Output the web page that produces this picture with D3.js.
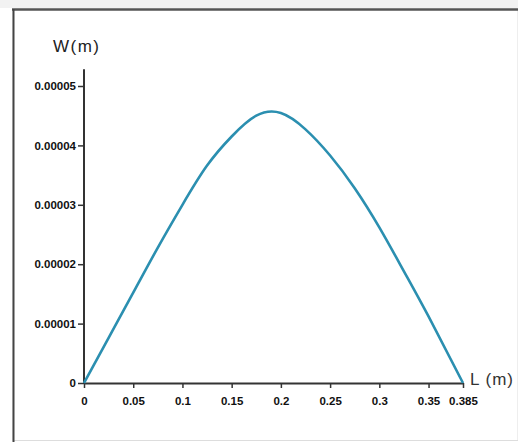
<!DOCTYPE html>
<html>
<head>
<meta charset="utf-8">
<script src="https://cdn.jsdelivr.net/npm/d3@7"></script>
<style>
  body { margin: 0; background: #fff; }
  svg { display: block; }
</style>
</head>
<body>
<div id="chart"></div>
<script>
// span position L (m) and deflection W (m)
var lengthVals = [0, 0.025, 0.05, 0.075, 0.1, 0.125, 0.15, 0.175, 0.2, 0.225, 0.25, 0.275, 0.3, 0.325, 0.35, 0.385];
var deflectionVals = [0, 0.76e-5, 1.52e-5, 2.28e-5, 3.0e-5, 3.66e-5, 4.15e-5, 4.5e-5, 4.545e-5, 4.27e-5, 3.83e-5, 3.28e-5, 2.62e-5, 1.88e-5, 1.12e-5, 0];

var xTickVals = [0, 0.05, 0.1, 0.15, 0.2, 0.25, 0.3, 0.35, 0.385];
var xTickLabels = ["0", "0.05", "0.1", "0.15", "0.2", "0.25", "0.3", "0.35", "0.385"];
var yTickVals = [0, 0.00001, 0.00002, 0.00003, 0.00004, 0.00005];
var yTickLabels = ["0", "0.00001", "0.00002", "0.00003", "0.00004", "0.00005"];
var yAxisTop = 5.28e-5;

var width = 518,
    height = 444;

var svg = d3.select("#chart").append("svg")
    .attr("width", width)
    .attr("height", height);

// - - - - frame around the picture - - - -
svg.append("rect")
    .attr("x", 0).attr("y", 0)
    .attr("width", width).attr("height", 8)
    .attr("fill", "#f2f2f2");
svg.append("rect")
    .attr("x", 13).attr("y", 9.5)
    .attr("width", width - 13).attr("height", 431)
    .attr("fill", "none")
    .attr("stroke", "#ddd")
    .attr("stroke-width", 1);
svg.append("line")
    .attr("x1", 12).attr("x2", width)
    .attr("y1", 9.5).attr("y2", 9.5)
    .attr("stroke", "#555")
    .attr("stroke-width", 2.5);
svg.append("line")
    .attr("x1", 13.5).attr("x2", 13.5)
    .attr("y1", 9).attr("y2", 442)
    .attr("stroke", "#444")
    .attr("stroke-width", 2);

var x = d3.scaleLinear().domain([0, 0.385]).range([84, 463]);
var y = d3.scaleLinear().domain([0, 0.00005]).range([383, 86]);

// - - - - axes - - - -
var xAxis = d3.axisBottom(x)
    .tickValues(xTickVals)
    .tickFormat(function(d, i) { return xTickLabels[i]; })
    .tickSize(5)
    .tickSizeOuter(0)
    .tickPadding(9);

var yAxis = d3.axisLeft(y)
    .tickValues(yTickVals)
    .tickFormat(function(d, i) { return yTickLabels[i]; })
    .tickSize(6)
    .tickSizeOuter(0)
    .tickPadding(2);

var gx = svg.append("g")
    .attr("transform", "translate(0," + y(0) + ")")
    .call(xAxis);

var gy = svg.append("g")
    .attr("transform", "translate(" + x(0) + ",0)")
    .call(yAxis);

// y axis line runs a bit past the top tick
gy.select(".domain").attr("d", "M0," + y(yAxisTop) + "V" + y(0));

[gx, gy].forEach(function(g) {
  g.select(".domain").attr("stroke", "#333").attr("stroke-width", 2);
  g.selectAll(".tick line").attr("stroke", "#333").attr("stroke-width", 1.5);
  g.selectAll(".tick text")
      .attr("fill", "#111")
      .style("font", "bold 11.5px 'Liberation Sans', Arial, sans-serif");
});

// - - - - deflection curve - - - -
var pts = lengthVals.map(function(d, i) { return [d, deflectionVals[i]]; });
var line = d3.line()
    .x(function(d) { return x(d[0]); })
    .y(function(d) { return y(d[1]); })
    .curve(d3.curveNatural);

svg.append("path")
    .datum(pts)
    .attr("d", line)
    .attr("fill", "none")
    .attr("stroke", "#2b8fb0")
    .attr("stroke-width", 2.6);

// - - - - axis titles - - - -
svg.append("text")
    .attr("x", 53)
    .attr("y", 52)
    .attr("fill", "#222")
    .style("font", "17px 'Liberation Sans', Arial, sans-serif")
    .style("letter-spacing", "1.5px")
    .text("W(m)");

svg.append("text")
    .attr("x", x(0.385) + 7)
    .attr("y", y(0) + 2)
    .attr("fill", "#333")
    .style("font", "17px 'Liberation Sans', Arial, sans-serif")
    .style("letter-spacing", "1px")
    .text("L (m)");
</script>
</body>
</html>
